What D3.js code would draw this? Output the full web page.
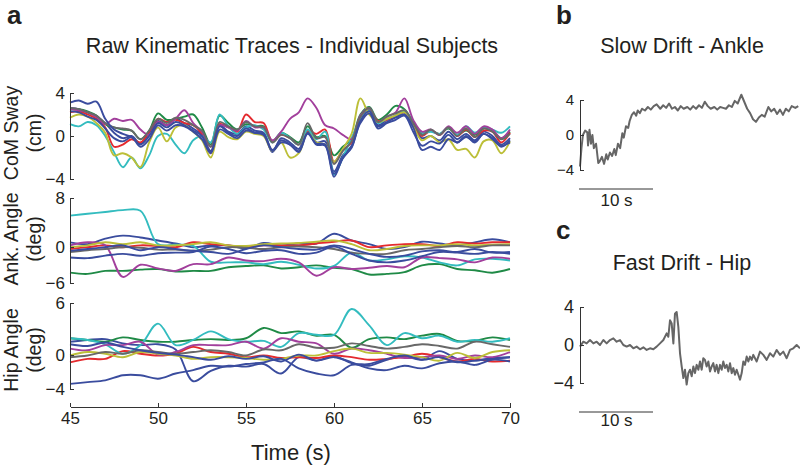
<!DOCTYPE html>
<html>
<head>
<meta charset="utf-8">
<script src="https://cdn.jsdelivr.net/npm/d3@7"></script>
<style>
  body { margin: 0; background: #fff; }
  svg { font-family: "Liberation Sans", Arial, Helvetica, sans-serif; }
  .axis path, .axis line { stroke: #333; stroke-width: 1; shape-rendering: crispEdges; }
  .axis text { fill: #231f20; font-family: "Liberation Sans", Arial, sans-serif; }
</style>
</head>
<body>
<svg id="fig" width="800" height="466"></svg>
<script>
// ---- data ----
// panel a: sample times (s)
const tCoM = [45,45.5,46,46.5,47,47.5,48,48.5,49,49.5,50,50.5,51,51.5,52,52.5,53,53.5,54,54.5,
  55,55.5,56,56.5,57,57.5,58,58.5,59,59.5,60,60.5,61,61.5,62,62.5,63,63.5,64,64.5,
  65,65.5,66,66.5,67,67.5,68,68.5,69,69.5,70];
const tJoint = [45,46,47,48,49,50,51,52,53,54,55,56,57,58,59,60,61,62,63,64,65,66,67,68,69,70];
const xTicks = [45,50,55,60,65,70];

// CoM sway (cm), one array per subject
const com1 = [2.6,2.5,2.2,1.8,1.2,0.3,-0.2,0.0,-0.7,0.3,1.4,1.0,1.6,1.2,0.7,0.1,-1.4,1.0,0.4,0.2,
  0.9,0.5,0.3,-1.5,-0.2,-0.6,-1.2,0.5,-0.6,-0.5,-3.3,-1.8,-0.9,1.6,2.5,1.0,1.5,1.8,2.2,1.0,
  -0.2,0.0,-0.4,0.4,-0.3,0.2,-0.4,0.4,0.0,-0.8,-0.2];
const com2 = [2.5,2.5,2.3,1.9,1.1,0.8,0.6,0.5,-0.3,0.5,2.1,1.5,1.6,1.8,2.0,0.8,-0.8,1.9,1.2,0.6,
  1.1,0.9,0.9,-0.5,0.3,-0.1,-0.6,0.9,-0.1,0.0,-1.8,-1.0,-0.3,2.0,2.7,1.5,2.0,2.8,2.5,1.3,
  0.2,0.5,0.2,0.7,0.1,0.5,0.1,0.7,0.5,-0.2,0.4];
const com3 = [2.2,2.3,2.0,1.6,0.8,-1.0,-0.8,-0.3,-0.6,0.4,1.6,1.3,1.5,1.2,1.0,0.2,-1.6,1.1,0.8,0.4,
  2.0,1.3,1.2,-0.5,0.1,-0.2,-0.8,0.5,0.2,0.6,-2.4,-1.3,-0.6,1.7,2.4,1.4,1.5,1.9,2.2,1.1,
  0.0,0.5,0.1,0.8,0.0,0.6,-0.1,0.5,0.4,-0.6,0.3];
const com4 = [1.1,0.9,1.3,1.0,0.0,-1.5,-2.9,-2.0,-3.0,-1.8,0.0,0.2,-0.8,-1.6,-0.4,0.0,-0.6,2.0,0.9,0.2,
  0.8,1.0,0.6,-0.6,0.3,-0.2,-0.8,0.6,-0.3,0.4,-3.6,-2.0,-0.2,1.5,2.4,1.2,1.6,1.9,2.3,1.3,
  0.3,0.4,0.2,0.8,0.1,0.9,0.3,0.8,0.6,0.3,0.9];
const com5 = [2.5,2.4,2.2,1.8,1.1,1.6,1.4,1.5,0.6,0.1,1.3,1.0,1.6,2.4,1.2,0.4,-1.0,1.0,0.8,0.5,
  1.4,0.8,0.8,-0.4,0.4,1.6,2.2,3.5,2.6,1.0,0.7,0.1,-0.3,1.9,2.6,1.3,1.8,2.2,3.5,1.5,
  0.4,0.6,0.1,0.9,0.3,0.9,0.2,0.9,0.6,-0.2,0.6];
const com6 = [1.7,2.0,1.8,1.2,0.3,-1.8,-1.6,-2.0,-2.9,-0.6,0.8,-0.5,0.8,1.0,0.4,-0.4,-2.0,0.4,-0.1,-0.3,
  0.4,0.2,0.0,-1.4,-0.6,-2.0,-1.6,0.3,-0.6,-0.8,-2.4,-1.2,0.2,3.5,2.0,1.3,1.6,1.9,2.2,0.9,
  -0.4,0.0,-0.6,-0.3,-1.3,-1.2,-2.0,-0.5,-0.4,-1.6,-0.5];
const com7 = [2.6,2.5,2.2,1.9,1.2,0.8,0.7,0.5,-0.3,0.5,1.6,1.2,1.7,1.5,1.0,0.5,-1.0,1.3,0.9,0.6,
  1.3,0.9,0.8,-0.6,0.1,-0.2,-0.8,1.2,-0.2,-0.1,-2.6,-1.4,-0.5,1.8,2.6,1.3,1.8,2.1,2.4,1.2,
  0.1,0.6,0.1,0.8,0.0,0.7,-0.1,0.7,0.4,-0.3,0.2];
const com8 = [3.1,3.3,3.0,3.2,1.6,0.6,0.2,-0.1,-0.8,0.0,1.2,0.8,1.3,1.0,0.5,0.0,-1.5,0.9,0.3,0.0,
  0.7,0.3,0.2,-1.3,-0.4,-0.8,-1.4,0.3,-0.8,-0.9,-3.8,-2.0,-1.1,1.4,2.3,0.9,1.3,1.7,2.0,0.8,
  -1.3,-1.0,-1.3,-0.3,-0.6,-0.1,-0.5,0.2,-0.2,-1.0,-0.4];
const com9 = [2.3,2.2,1.8,1.5,0.7,-0.2,-0.5,-0.1,-1.0,-0.3,1.0,0.5,1.0,0.9,0.4,-0.3,-1.6,0.6,0.2,-0.2,
  0.5,0.3,0.1,-1.4,-0.6,-0.8,-1.5,0.2,-0.7,-0.8,-3.5,-2.1,-1.0,1.2,2.1,0.7,1.2,1.5,1.9,0.4,
  -0.9,-0.5,-0.7,0.1,-0.6,0.0,-0.6,0.2,-0.3,-0.9,-0.6];

// ankle angle (deg)
const ank1 = [0.7,0.4,1.3,1.8,1.5,1.0,0.5,-0.1,0.2,0.2,-0.3,0.6,0.2,0.5,0.5,2.1,1.0,0.4,-0.4,-0.1,0.8,0.5,0.2,0.7,1.2,0.7];
const ank2 = [-4.3,-4.5,-4.0,-4.0,-3.8,-3.7,-4.1,-4.0,-4.0,-3.4,-3.2,-3.1,-3.6,-3.4,-3.1,-3.5,-3.7,-4.6,-4.5,-4.2,-3.1,-2.9,-3.7,-3.9,-4.3,-3.7];
const ank3 = [-0.4,-0.1,0.2,-0.1,0.2,0.1,-0.1,0.7,0.4,0.2,-0.1,0.2,0.2,0.2,0.5,0.8,1.0,-0.1,0.2,0.4,0.4,0.1,0.7,0.5,0.7,0.7];
const ank4 = [5.1,5.4,5.7,6.0,5.9,0.4,0.3,0.1,-2.5,-2.6,-2.6,-2.9,-2.5,-3.0,-3.6,-3.2,-1.0,-2.3,-2.1,-1.6,-1.8,-2.6,-3.1,-2.1,-2.0,-2.3];
const ank5 = [0.2,0.7,0.2,-5.0,-3.0,-3.6,-4.0,-2.9,-2.9,-1.8,-2.3,-2.4,-2.0,-2.6,-4.8,-3.4,-3.7,-3.5,-3.2,-3.4,-1.8,-1.9,-2.1,-2.6,-1.8,-2.0];
const ank6 = [-0.1,0.2,0.7,0.4,0.7,0.2,0.2,0.4,0.7,0.2,0.1,0.4,0.5,0.6,0.8,1.0,0.4,-0.6,-0.4,0.1,0.2,0.2,0.4,0.2,0.3,0.4];
const ank7 = [-0.9,-0.6,-0.4,-0.1,-0.2,-0.5,-0.5,-0.7,-0.5,-0.1,-0.2,-0.4,-0.1,0.0,-0.1,-0.4,-1.0,-1.2,-1.2,-0.6,-0.4,-0.1,0.1,-0.1,0.2,0.2];
const ank8 = [-0.7,-0.4,-0.1,0.2,-0.6,-0.1,-0.4,-0.7,-0.9,-1.2,-0.4,0.2,-0.1,-0.4,-0.5,0.2,-0.4,-1.2,-1.7,-1.5,-0.8,-0.6,-0.9,-0.4,-1.0,-0.9];
const ank9 = [-1.8,-1.9,-1.5,-1.2,-1.5,-1.1,-1.0,-0.9,0.0,-0.4,-1.1,-0.7,-0.6,-1.2,-1.0,0.0,-1.2,-2.3,-2.6,-2.3,-1.6,-0.9,-1.0,-1.2,-0.9,-1.2];

// hip angle (deg)
const hip1 = [1.5,1.7,1.8,1.3,1.1,1.2,0.6,-3.1,-1.9,-1.3,-1.4,-1.1,-2.2,-0.3,-0.7,-0.2,-1.0,-1.3,-0.6,-0.2,-0.6,0.4,-0.5,-0.7,-0.4,-0.3];
const hip2 = [1.9,1.7,1.5,2.0,1.7,1.5,1.5,1.7,1.8,1.7,1.9,3.1,2.5,2.7,2.2,2.3,0.8,1.8,2.0,1.8,2.2,2.4,1.6,1.6,2.0,1.7];
const hip3 = [-0.9,-0.5,-0.5,0.4,0.1,-0.1,0.1,0.9,0.3,0.1,-0.3,-0.1,-0.4,-0.3,-0.4,-0.1,-0.3,-0.6,-0.5,-0.3,0.1,-0.3,-0.8,-0.5,-0.8,-0.7];
const hip4 = [1.9,1.7,1.2,0.1,1.1,3.6,1.1,1.7,2.7,1.8,1.5,1.6,0.9,2.5,2.3,2.3,5.3,3.4,1.1,2.5,1.9,2.2,1.5,1.7,1.5,1.9];
const hip5 = [0.7,0.5,1.1,1.1,1.5,0.0,0.3,1.1,1.1,1.1,1.5,0.7,1.9,1.5,1.3,0.1,0.7,0.5,0.1,-0.4,-0.3,-0.1,-0.5,-0.1,-0.3,0.3];
const hip6 = [-0.1,0.3,0.1,-0.3,0.3,0.1,-0.1,-0.5,-0.3,-0.3,-0.4,-0.6,-0.5,-0.1,-0.1,0.4,0.7,0.2,0.2,0.0,-0.3,-0.7,0.2,-0.4,0.3,0.5];
const hip7 = [-0.3,-0.1,0.3,0.1,0.5,0.3,0.1,0.3,0.5,0.3,-0.1,0.6,0.5,1.2,0.8,0.8,1.3,1.0,0.7,0.9,1.2,1.0,0.7,1.5,1.2,0.9];
const hip8 = [-3.4,-3.2,-3.0,-2.4,-2.4,-2.8,-2.2,-1.8,-1.3,-1.4,-1.1,-0.9,-0.5,-1.6,-2.2,-2.4,-1.2,-1.1,-0.5,-0.1,-0.6,-0.3,-0.9,-0.7,-0.5,-0.3];
const hip9 = [1.2,1.0,1.4,0.9,0.5,0.2,0.0,-0.3,-0.6,-0.2,-0.5,-0.2,-0.8,0.0,-0.7,-0.3,-0.9,-1.6,-1.8,-1.3,-1.6,-1.0,-0.8,-1.2,-0.6,-0.8];

// panel b: slow drift, ankle (time in s from start of the excerpt)
const bTime = [0,0.2,0.4,0.7,1.0,1.1,1.3,1.5,1.7,1.9,2.2,2.5,2.7,3.0,3.3,3.6,3.8,4.1,4.4,4.7,
  4.9,5.2,5.5,5.8,6.0,6.3,6.6,6.8,7.1,7.4,7.7,7.9,8.2,8.5,8.9,9.3,9.7,10.1,10.5,11.0,
  11.4,11.8,12.2,12.6,13.0,13.4,13.8,14.2,14.7,15.1,15.5,15.9,16.3,16.7,17.1,17.5,17.9,18.4,18.8,19.2,
  19.6,20.0,20.4,20.8,21.2,21.6,22.1,22.5,22.9,23.3,23.7,24.1,24.5,24.9,25.3,25.8,26.2,26.6,27.0,27.4,
  27.8,28.2,28.6,29.0,29.5,29.9];
const bAnkle = [-3.6,-1.5,0.0,0.5,0.3,-1.2,0.6,-1.0,0.0,-1.5,-1.0,-3.2,-3.0,-2.5,-3.3,-2.2,-2.8,-2.0,-2.4,-1.6,
  -2.3,-1.0,-1.5,0.2,-0.3,1.0,0.8,1.6,2.3,2.6,2.2,2.8,2.5,3.0,2.8,3.2,2.9,3.3,3.5,3.0,
  3.4,3.1,3.6,3.0,3.2,2.8,3.3,3.0,3.2,2.9,3.3,3.0,3.4,3.1,3.8,3.3,3.0,3.2,2.9,3.2,
  3.1,3.0,3.4,3.2,3.9,3.6,4.6,3.8,3.0,2.5,1.8,1.5,2.0,2.3,2.1,3.2,2.7,3.0,2.4,2.9,
  2.3,3.0,2.7,3.3,3.1,3.3];

// panel c: fast drift, hip
const cTime = [0,0.46,0.91,1.37,1.83,2.28,2.74,3.2,3.65,4.11,4.57,5.02,5.48,5.94,6.39,6.85,7.31,7.76,8.22,8.68,
  9.13,9.59,10.05,10.5,10.96,11.42,11.87,12.1,12.33,12.56,12.79,13.01,13.24,13.47,13.7,13.93,14.16,14.38,14.61,14.84,
  15.07,15.3,15.53,15.75,15.98,16.21,16.44,16.67,16.89,17.12,17.35,17.58,17.81,18.04,18.26,18.49,18.72,18.95,19.18,19.41,
  19.63,19.86,20.09,20.32,20.55,20.78,21.0,21.23,21.46,21.92,22.15,22.37,22.6,22.83,23.06,23.29,23.52,23.74,24.2,24.66,
  25.11,25.57,26.03,26.48,26.94,27.4,27.85,28.31,28.77,29.22,29.68,30.14];
const cHip = [-0.17,0.35,0.17,0.52,0.17,0.35,0.0,0.52,0.17,0.52,0.7,0.35,0.52,0.0,-0.17,0.0,-0.35,-0.17,-0.45,-0.24,
  -0.52,-0.35,-0.45,-0.17,0.17,0.52,1.22,0.87,2.6,2.26,0.17,3.3,3.48,1.91,-0.87,-2.26,-3.48,-2.6,-4.17,-2.96,
  -2.6,-3.3,-2.26,-2.96,-2.09,-2.6,-1.74,-2.6,-1.39,-1.57,-2.26,-1.74,-2.78,-2.26,-1.91,-2.78,-2.09,-2.96,-2.09,-2.6,
  -1.74,-2.43,-2.09,-2.78,-1.91,-2.96,-2.43,-3.13,-2.6,-3.65,-2.96,-1.74,-2.09,-1.22,-1.74,-1.22,-1.57,-1.04,-1.74,-0.7,
  -1.04,-1.57,-0.87,-1.22,-0.52,-1.04,-0.7,-1.39,-0.52,-0.35,0.0,-0.35];

// ---- styles ----
const subjectColors = ["#3a4c9e","#1f8a46","#e42a2e","#33bcbf","#a23f9c","#bcbf38","#686868","#3a4c9e","#3a4c9e"];
const ink = "#231f20";

const svg = d3.select("#fig");

// ---- panel a ----
const x = d3.scaleLinear().domain([45, 70]).range([70, 510]);
const yCom = d3.scaleLinear().domain([-4, 4]).range([179, 93]);
const yAnk = d3.scaleLinear().domain([-6, 8]).range([283, 198]);
const yHip = d3.scaleLinear().domain([-4, 6]).range([389, 303]);

function drawTraces(y, t, series) {
  const line = d3.line()
    .x((d, i) => x(t[i]))
    .y(d => y(d))
    .curve(d3.curveCatmullRom.alpha(0.5));
  const g = svg.append("g");
  series.forEach((s, i) => {
    g.append("path")
      .datum(s)
      .attr("d", line)
      .attr("fill", "none")
      .attr("stroke", subjectColors[i])
      .attr("stroke-width", 1.9)
      .attr("stroke-linejoin", "round");
  });
}

function minusFmt(d) { return d < 0 ? "\u2212" + Math.abs(d) : String(d); }

function yAxisA(y, ticks) {
  svg.append("g")
    .attr("class", "axis")
    .attr("transform", "translate(70,0)")
    .call(d3.axisLeft(y).tickValues(ticks).tickSize(-4).tickSizeOuter(0).tickPadding(5).tickFormat(minusFmt))
    .call(g => g.selectAll("text").style("font-size", "17px"));
}

function yLabel(cy, l1, l2) {
  svg.append("text").attr("transform", `translate(18,${cy}) rotate(-90)`)
    .attr("text-anchor", "middle").style("font-size", "19.5px").attr("fill", ink).text(l1);
  svg.append("text").attr("transform", `translate(41,${cy}) rotate(-90)`)
    .attr("text-anchor", "middle").style("font-size", "19.5px").attr("fill", ink).text(l2);
}

drawTraces(yCom, tCoM, [com1, com2, com3, com4, com5, com6, com7, com8, com9]);
drawTraces(yAnk, tJoint, [ank1, ank2, ank3, ank4, ank5, ank6, ank7, ank8, ank9]);
drawTraces(yHip, tJoint, [hip1, hip2, hip3, hip4, hip5, hip6, hip7, hip8, hip9]);

yAxisA(yCom, [-4, 0, 4]);
yAxisA(yAnk, [-6, 0, 8]);
yAxisA(yHip, [-4, 0, 6]);

yLabel(133, "CoM Sway", "(cm)");
yLabel(239, "Ank. Angle", "(deg)");
yLabel(350, "Hip Angle", "(deg)");

svg.append("g")
  .attr("class", "axis")
  .attr("transform", "translate(0,407)")
  .call(d3.axisBottom(x).tickValues(xTicks).tickSize(-4).tickSizeOuter(0).tickPadding(5))
  .call(g => g.selectAll("text").style("font-size", "17px"));

svg.append("text").attr("x", 291).attr("y", 460).attr("text-anchor", "middle")
  .style("font-size", "22px").attr("fill", ink).text("Time (s)");

svg.append("text").attr("x", 292).attr("y", 53).attr("text-anchor", "middle")
  .style("font-size", "21.5px").attr("fill", ink).text("Raw Kinematic Traces - Individual Subjects");

// panel letters
[["a", 7, 24], ["b", 556, 24], ["c", 556, 239]].forEach(([s, lx, ly]) => {
  svg.append("text").attr("x", lx).attr("y", ly).style("font-size", "26px")
    .style("font-weight", "bold").attr("fill", ink).text(s);
});

// ---- panels b and c ----
const xd = d3.scaleLinear().domain([0, 30]).range([580, 799]);

function driftPanel(title, titleY, y, t, v, fontPx, barY, barLabelY) {
  svg.append("text").attr("x", 682).attr("y", titleY).attr("text-anchor", "middle")
    .style("font-size", "21.5px").attr("fill", ink).text(title);

  svg.append("path")
    .datum(v)
    .attr("d", d3.line().x((d, i) => xd(t[i])).y(d => y(d)))
    .attr("fill", "none")
    .attr("stroke", "#666")
    .attr("stroke-width", 2)
    .attr("stroke-linejoin", "round");

  svg.append("g")
    .attr("class", "axis")
    .attr("transform", "translate(580,0)")
    .call(d3.axisLeft(y).tickValues([-4, 0, 4]).tickSize(-4).tickSizeOuter(0).tickPadding(6).tickFormat(d3.format("")))
    .call(g => g.selectAll("text").style("font-size", fontPx + "px"));

  // 10 s scale bar
  svg.append("line")
    .attr("x1", xd(0) - 1).attr("x2", xd(10))
    .attr("y1", barY).attr("y2", barY)
    .attr("stroke", "#333").attr("stroke-width", 1);
  svg.append("text").attr("x", (xd(0) + xd(10)) / 2).attr("y", barLabelY)
    .attr("text-anchor", "middle").style("font-size", "17px").attr("fill", ink).text("10 s");
}

const yB = d3.scaleLinear().domain([-4, 4]).range([170, 100]);
const yC = d3.scaleLinear().domain([-4, 4]).range([383, 307]);

driftPanel("Slow Drift - Ankle", 53, yB, bTime, bAnkle, 15, 189, 206);
driftPanel("Fast Drift - Hip", 270, yC, cTime, cHip, 18, 412, 426);
</script>
</body>
</html>
